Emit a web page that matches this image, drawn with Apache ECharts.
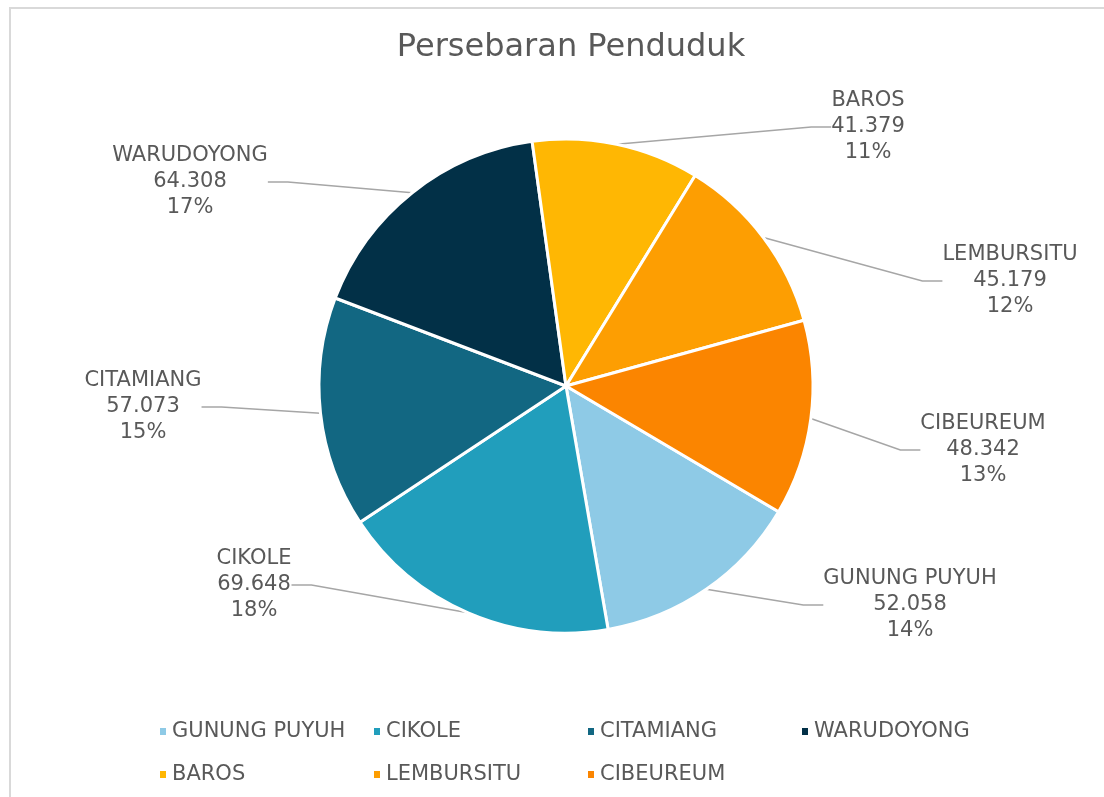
<!DOCTYPE html>
<html>
<head>
<meta charset="utf-8">
<script src="https://cdn.jsdelivr.net/npm/echarts@6/dist/echarts.min.js"></script>
<style>
  html, body { margin: 0; padding: 0; background: #fff; }
  #main { width: 1104px; height: 797px; }
</style>
</head>
<body>
<div id="main"></div>
<script>
var kecamatan = ["GUNUNG PUYUH", "CIKOLE", "CITAMIANG", "WARUDOYONG", "BAROS", "LEMBURSITU", "CIBEUREUM"];
var penduduk = [52058, 69648, 57073, 64308, 41379, 45179, 48342];
var warna = ["#8ECAE6", "#219EBC", "#126782", "#023047", "#FFB703", "#FD9E02", "#FB8500"];

// where each data label sits (center of the text block)
var labelPos = [[910, 605], [254, 585], [143, 407], [190, 182], [868, 127], [1010, 281], [983, 450]];

function formatRibuan(n) {
  return String(n).replace(/\B(?=(\d{3})+(?!\d))/g, ".");
}

var pieData = [];
for (var i = 0; i < kecamatan.length; i++) {
  pieData.push({ name: kecamatan[i], value: penduduk[i], itemStyle: { color: warna[i] } });
}

var chartDom = document.getElementById("main");
var chart = echarts.init(chartDom);
var textColor = "#595959";
var fontName = "DejaVu Sans";

var option = {
  animation: false,
  title: {
    text: "Persebaran Penduduk",
    left: 566,
    top: 27,
    textAlign: "center",
    textStyle: { fontFamily: fontName, fontSize: 32, fontWeight: "normal", color: textColor },
  },
  graphic: [
    {
      type: "rect",
      shape: { x: 10, y: 8, width: 1200, height: 900 },
      style: { fill: "none", stroke: "#d9d9d9", lineWidth: 2 },
      silent: true,
    },
  ],
  legend: {
    left: 153,
    top: 710,
    width: 870,
    itemWidth: 8,
    itemHeight: 9,
    itemGap: 10,
    icon: "rect",
    data: kecamatan,
    textStyle: { fontFamily: fontName, fontSize: 21, color: textColor, width: 190, lineHeight: 33 },
  },
  series: [
    {
      type: "pie",
      center: [566, 386],
      radius: 247,
      startAngle: -30.6,
      clockwise: true,
      percentPrecision: 0,
      data: pieData,
      itemStyle: { borderColor: "#fff", borderWidth: 3 },
      label: {
        show: true,
        position: "outside",
        fontFamily: fontName,
        fontSize: 21,
        lineHeight: 26,
        color: textColor,
        align: "center",
        formatter: function (p) {
          return p.name + "\n" + formatRibuan(p.value) + "\n" + p.percent + "%";
        },
      },
      labelLine: { show: true, length: 20, length2: 20, lineStyle: { color: "#a6a6a6", width: 1.5 } },
      labelLayout: function (params) {
        var pos = labelPos[params.dataIndex];
        return { x: pos[0], y: pos[1], align: "center", verticalAlign: "middle" };
      },
      emphasis: { disabled: true },
    },
  ],
};

chart.setOption(option);
</script>
</body>
</html>
